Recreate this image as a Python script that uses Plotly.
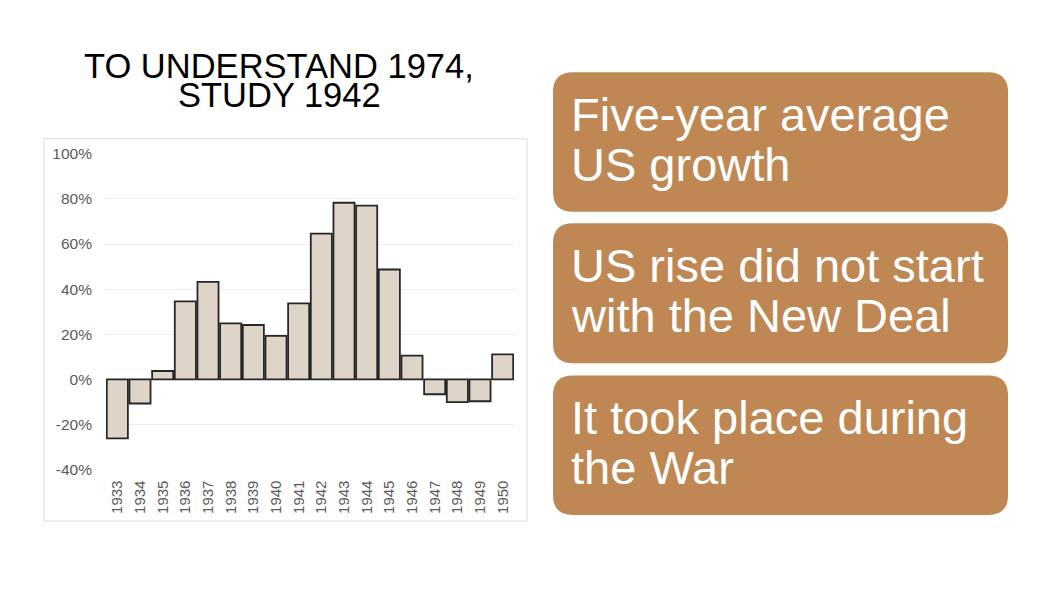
import plotly.graph_objects as go

W, H = 1053, 593

# five-year average US growth, per year (percent)
years = ["1933", "1934", "1935", "1936", "1937", "1938", "1939", "1940", "1941",
         "1942", "1943", "1944", "1945", "1946", "1947", "1948", "1949", "1950"]
growth = [-26.2, -10.7, 3.7, 34.6, 43.2, 24.8, 24.1, 19.3, 33.7,
          64.6, 78.3, 77.0, 48.7, 10.5, -6.6, -10.1, -9.7, 11.1]

y_ticks = [-40, -20, 0, 20, 40, 60, 80, 100]
y_tick_labels = ["-40%", "-20%", "0%", "20%", "40%", "60%", "80%", "100%"]

title_lines = ["TO UNDERSTAND 1974,", "STUDY 1942"]
box_lines = [
    ["Five-year average", "US growth"],
    ["US rise did not start", "with the New Deal"],
    ["It took place during", "the War"],
]

FONT = "Liberation Sans, Arial, sans-serif"
BOX_COLOR = "#BE8753"

# the captured page comes out squeezed a bit vertically; undo that here
Y_OFF, Y_SCALE = 9.7, 0.968


def px(x):
    return x / W


def py(y):
    return 1 - ((y - Y_OFF) / Y_SCALE) / H


def rounded_box(x0, y0, x1, y1, r):
    # rounded rectangle in pixel coords -> paper path
    p = [
        f"M {px(x0 + r)},{py(y0)}",
        f"L {px(x1 - r)},{py(y0)}",
        f"Q {px(x1)},{py(y0)} {px(x1)},{py(y0 + r)}",
        f"L {px(x1)},{py(y1 - r)}",
        f"Q {px(x1)},{py(y1)} {px(x1 - r)},{py(y1)}",
        f"L {px(x0 + r)},{py(y1)}",
        f"Q {px(x0)},{py(y1)} {px(x0)},{py(y1 - r)}",
        f"L {px(x0)},{py(y0 + r)}",
        f"Q {px(x0)},{py(y0)} {px(x0 + r)},{py(y0)}",
        "Z",
    ]
    return " ".join(p)


fig = go.Figure()
fig.add_trace(go.Bar(
    x=years,
    y=growth,
    marker=dict(color="#DED4C8", line=dict(color="#262626", width=1.8)),
    hoverinfo="skip",
))

fig.update_layout(
    width=W,
    height=H,
    margin=dict(l=0, r=0, t=0, b=0),
    paper_bgcolor="white",
    plot_bgcolor="white",
    showlegend=False,
    bargap=0.07,
    font=dict(family=FONT, color="#595959", size=15),
    xaxis=dict(
        domain=[px(106), px(514)],
        type="category",
        tickangle=-90,
        showgrid=False,
        ticks="",
        ticklabelstandoff=7,
        tickfont=dict(size=15, color="#595959"),
        fixedrange=True,
    ),
    yaxis=dict(
        domain=[py(468.7), py(154)],
        range=[-40, 100],
        tickvals=y_ticks,
        ticktext=y_tick_labels,
        showgrid=True,
        gridcolor="#EBEBEB",
        gridwidth=1,
        zeroline=True,
        zerolinecolor="#EBEBEB",
        zerolinewidth=1,
        ticks="",
        ticklabelstandoff=13,
        tickfont=dict(size=15.5, color="#595959"),
        fixedrange=True,
    ),
)

# chart frame
fig.add_shape(type="rect", xref="paper", yref="paper",
              x0=px(44), x1=px(527), y0=py(520), y1=py(139),
              line=dict(color="#D9D9D9", width=1), layer="below")

# title, two tight lines
for text, yc in zip(title_lines, [66.7, 95.8]):
    fig.add_annotation(text=text, xref="paper", yref="paper",
                       x=px(279), y=py(yc), xanchor="center", yanchor="middle",
                       showarrow=False,
                       font=dict(family=FONT, size=34.5, color="#000000"))

# right-hand boxes
boxes = [(72.7, 211.7), (223.3, 362.7), (375, 514)]
for (top, bottom), lines in zip(boxes, box_lines):
    fig.add_shape(type="path", xref="paper", yref="paper",
                  path=rounded_box(553, top, 1008, bottom, 20),
                  fillcolor=BOX_COLOR, line=dict(width=0), layer="below")
    for i, text in enumerate(lines):
        yc = top + 42 + i * 50
        fig.add_annotation(text=text, xref="paper", yref="paper",
                           x=px(569), y=py(yc), xanchor="left", yanchor="middle",
                           showarrow=False,
                           font=dict(family=FONT, size=47, color="white"))

# page margin off so the figure sits at the window's top-left corner
fig.write_html("out.html", config={"displayModeBar": False},
               post_script="document.body.style.margin='0';")
